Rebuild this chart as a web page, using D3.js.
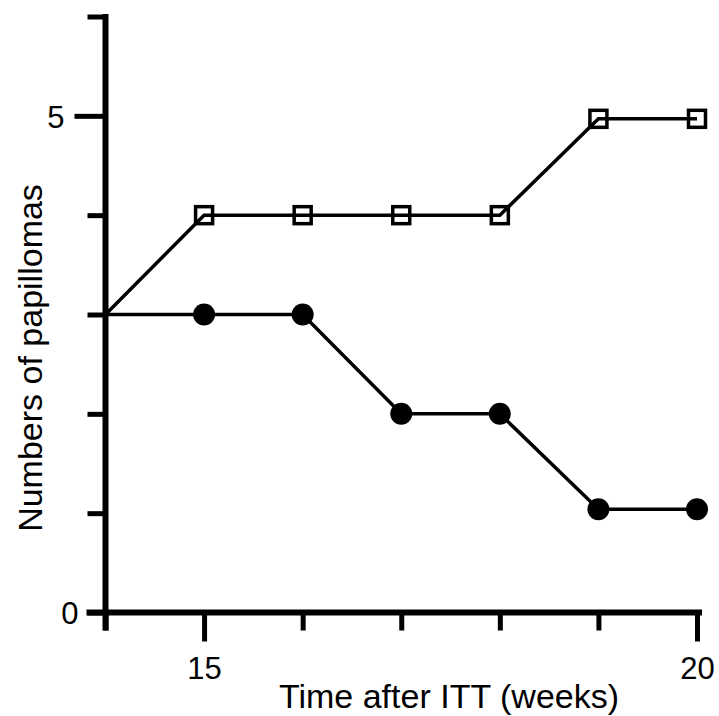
<!DOCTYPE html>
<html>
<head>
<meta charset="utf-8">
<script src="https://cdn.jsdelivr.net/npm/d3@7"></script>
<style>
  body { margin: 0; background: #fff; }
  text { font-family: "Liberation Sans", Arial, sans-serif; fill: #000; }
</style>
</head>
<body>
<div id="chart"></div>
<script>
// Data
const weeks = [14, 15, 16, 17, 18, 19, 20];
const openSquares = [3, 4, 4, 4, 4, 4.97, 4.97];
const filledCircles = [3, 3, 3, 2, 2, 1.04, 1.04];
const xTicks = [14, 15, 16, 17, 18, 19, 20];
const xLabelled = [15, 20];
const yTicks = [0, 1, 2, 3, 4, 5, 6];
const yLabelled = [0, 5];

const width = 719;
const height = 716;

const svg = d3.select('#chart').append('svg')
  .attr('width', width)
  .attr('height', height);

// Scales
const xScale = d3.scaleLinear().domain([14, 20]).range([105.5, 697]);
const yScale = d3.scaleLinear().domain([0, 6]).range([612.5, 16.5]);

// Lines (drawn first, markers go on top)
const line = d3.line()
  .x((d, i) => xScale(weeks[i]))
  .y(d => yScale(d));

[openSquares, filledCircles].forEach(series => {
  svg.append('path')
    .datum(series)
    .attr('d', line)
    .attr('fill', 'none')
    .attr('stroke', '#000')
    .attr('stroke-width', 3.5);
});

// Filled circle markers (no marker at week 14)
svg.selectAll('circle.dot')
  .data(filledCircles.slice(1))
  .enter()
  .append('circle')
  .attr('cx', (d, i) => xScale(weeks[i + 1]))
  .attr('cy', d => yScale(d))
  .attr('r', 11)
  .attr('fill', '#000');

// Open square markers
const sq = 17;
svg.selectAll('rect.sq')
  .data(openSquares.slice(1))
  .enter()
  .append('rect')
  .attr('x', (d, i) => xScale(weeks[i + 1]) - sq / 2)
  .attr('y', d => yScale(d) - sq / 2)
  .attr('width', sq)
  .attr('height', sq)
  .attr('fill', 'none')
  .attr('stroke', '#000')
  .attr('stroke-width', 3.5);

// x-axis
const xAxis = svg.append('g')
  .attr('transform', `translate(0, ${yScale(0)})`)
  .call(d3.axisBottom(xScale)
    .tickValues(xTicks)
    .tickSize(18)
    .tickSizeOuter(0)
    .tickFormat(d => xLabelled.includes(d) ? d : ''));

xAxis.select('.domain')
  .attr('d', `M${xScale(14) - 19},0H${xScale(20) + 5}`)
  .attr('stroke-width', 6);
xAxis.selectAll('.tick line')
  .attr('stroke-width', 5)
  .attr('y2', d => xLabelled.includes(d) ? 29 : 18);
xAxis.selectAll('.tick text')
  .attr('y', 44)
  .attr('dy', '0.71em')
  .style('font-size', '31px')
  .style('font-family', '"Liberation Sans", Arial, sans-serif');

// y-axis
const yAxis = svg.append('g')
  .attr('transform', `translate(${xScale(14)}, 0)`)
  .call(d3.axisLeft(yScale)
    .tickValues(yTicks)
    .tickSize(18)
    .tickSizeOuter(0)
    .tickFormat(d => yLabelled.includes(d) ? d : ''));

yAxis.select('.domain')
  .attr('d', `M0,${yScale(6) - 2.5}V${yScale(0) + 18}`)
  .attr('stroke-width', 6);
yAxis.selectAll('.tick line')
  .attr('stroke-width', 5)
  .attr('x2', d => d === 5 ? -31 : -18);
yAxis.selectAll('.tick text')
  .attr('x', d => d === 5 ? -41 : -27)
  .attr('dy', '0.36em')
  .style('font-size', '31px')
  .style('font-family', '"Liberation Sans", Arial, sans-serif');

// Axis titles
svg.append('text')
  .attr('x', 449)
  .attr('y', 708)
  .attr('text-anchor', 'middle')
  .style('font-size', '34px')
  .text('Time after ITT (weeks)');

svg.append('text')
  .attr('transform', 'translate(42, 358) rotate(-90)')
  .attr('text-anchor', 'middle')
  .style('font-size', '34px')
  .text('Numbers of papillomas');
</script>
</body>
</html>
